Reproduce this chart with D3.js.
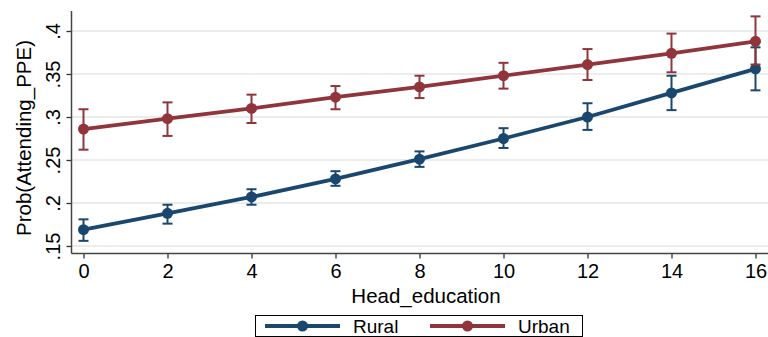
<!DOCTYPE html>
<html><head><meta charset="utf-8">
<script src="https://cdn.jsdelivr.net/npm/d3@7"></script>
<style>body{margin:0;background:#fff}svg{display:block}text{font-family:"Liberation Sans",Arial,sans-serif;fill:#000}</style>
</head><body><svg id="c" width="768" height="337"></svg>
<script>
const education = [0, 2, 4, 6, 8, 10, 12, 14, 16];
const ruralMean  = [0.169, 0.188, 0.207, 0.228, 0.251, 0.275, 0.300, 0.328, 0.356];
const ruralLow   = [0.156, 0.176, 0.198, 0.220, 0.242, 0.264, 0.285, 0.308, 0.331];
const ruralHigh  = [0.181, 0.198, 0.216, 0.237, 0.260, 0.287, 0.316, 0.348, 0.381];
const urbanMean  = [0.286, 0.298, 0.310, 0.323, 0.335, 0.348, 0.361, 0.374, 0.388];
const urbanLow   = [0.262, 0.278, 0.293, 0.309, 0.322, 0.333, 0.343, 0.352, 0.361];
const urbanHigh  = [0.309, 0.317, 0.326, 0.336, 0.348, 0.363, 0.379, 0.397, 0.417];
const yTicks = [0.15, 0.2, 0.25, 0.3, 0.35, 0.4];
const yTickLabels = [".15", ".2", ".25", ".3", ".35", ".4"];
const xTicks = [0, 2, 4, 6, 8, 10, 12, 14, 16];
const seriesNames = ["Rural", "Urban"];
const colors = ["#1a476f", "#90353b"];

const svg = d3.select("#c");
const x = d3.scaleLinear().domain([0, 16]).range([83.5, 755.5]);
const y = d3.scaleLinear().domain([0.15, 0.4]).range([246, 31]);
const axisX0 = 71.5, axisYb = 253.5, plotTop = 11, plotRight = 768;

// gridlines
svg.append("g").selectAll("line").data(yTicks).join("line")
  .attr("x1", axisX0).attr("x2", plotRight)
  .attr("y1", d => y(d)).attr("y2", d => y(d))
  .attr("stroke", "#ececec").attr("stroke-width", 2);

// y axis
const yAxis = d3.axisLeft(y).tickValues(yTicks).tickSize(5).tickFormat((d, i) => yTickLabels[i]);
const gy = svg.append("g").attr("transform", `translate(${axisX0},0)`).call(yAxis);
gy.select(".domain").remove();
gy.selectAll(".tick line").attr("stroke", "#333").attr("stroke-width", 1.3);
gy.selectAll(".tick text").attr("font-size", 20).attr("fill", "#000")
  .attr("text-anchor", "middle").attr("dy", 0).attr("x", 0)
  .attr("transform", "translate(-12,0) rotate(-90)");
svg.append("line").attr("x1", axisX0).attr("x2", axisX0).attr("y1", plotTop).attr("y2", axisYb)
  .attr("stroke", "#444").attr("stroke-width", 1.5);

// x axis
const xAxis = d3.axisBottom(x).tickValues(xTicks).tickSize(5).tickFormat(d3.format("d"));
const gx = svg.append("g").attr("transform", `translate(0,${axisYb})`).call(xAxis);
gx.select(".domain").remove();
gx.selectAll(".tick line").attr("stroke", "#333").attr("stroke-width", 1.3);
gx.selectAll(".tick text").attr("font-size", 20).attr("fill", "#000").attr("y", 10).attr("dy", "0.71em");
svg.append("line").attr("x1", axisX0).attr("x2", plotRight).attr("y1", axisYb).attr("y2", axisYb)
  .attr("stroke", "#444").attr("stroke-width", 1.5);

// titles
svg.append("text").attr("x", 426).attr("y", 303).attr("text-anchor", "middle")
  .attr("font-size", 20.5).text("Head_education");
svg.append("text").attr("transform", "translate(31,138) rotate(-90)").attr("text-anchor", "middle")
  .attr("font-size", 20.5).text("Prob(Attending_PPE)");

const series = [
  {name: seriesNames[0], mean: ruralMean, lo: ruralLow, hi: ruralHigh, color: colors[0]},
  {name: seriesNames[1], mean: urbanMean, lo: urbanLow, hi: urbanHigh, color: colors[1]}
];
const line = d3.line().x(d => x(d[0])).y(d => y(d[1]));

series.forEach(s => {
  const g = svg.append("g");
  const pts = education.map((e, i) => [e, s.mean[i], s.lo[i], s.hi[i]]);
  g.append("path").datum(pts).attr("d", line).attr("fill", "none")
    .attr("stroke", s.color).attr("stroke-width", 3.8).attr("stroke-linejoin", "round");
  g.selectAll("circle").data(pts).join("circle")
    .attr("cx", d => x(d[0])).attr("cy", d => y(d[1])).attr("r", 5.5).attr("fill", s.color);
});
series.forEach(s => {
  const g = svg.append("g").attr("stroke", s.color).attr("stroke-width", 2);
  const pts = education.map((e, i) => [e, s.mean[i], s.lo[i], s.hi[i]]);
  g.selectAll("line.v").data(pts).join("line").attr("class", "v")
    .attr("x1", d => x(d[0])).attr("x2", d => x(d[0])).attr("y1", d => y(d[2])).attr("y2", d => y(d[3]));
  g.selectAll("line.t").data(pts).join("line").attr("class", "t")
    .attr("x1", d => x(d[0]) - 5).attr("x2", d => x(d[0]) + 5).attr("y1", d => y(d[3])).attr("y2", d => y(d[3]));
  g.selectAll("line.b").data(pts).join("line").attr("class", "b")
    .attr("x1", d => x(d[0]) - 5).attr("x2", d => x(d[0]) + 5).attr("y1", d => y(d[2])).attr("y2", d => y(d[2]));
});

// legend
const lg = svg.append("g");
lg.append("rect").attr("x", 255.5).attr("y", 315.5).attr("width", 327).attr("height", 21)
  .attr("fill", "#fff").attr("stroke", "#000").attr("stroke-width", 1);
const legendPos = [{x0: 265, x1: 340, tx: 353}, {x0: 430, x1: 505, tx: 518}];
series.forEach((s, i) => {
  const p = legendPos[i];
  lg.append("line").attr("x1", p.x0).attr("x2", p.x1).attr("y1", 326).attr("y2", 326)
    .attr("stroke", s.color).attr("stroke-width", 3.8);
  lg.append("circle").attr("cx", (p.x0 + p.x1) / 2).attr("cy", 326).attr("r", 5.5).attr("fill", s.color);
  lg.append("text").attr("x", p.tx).attr("y", 333).attr("font-size", 19).text(s.name);
});
</script></body></html>
